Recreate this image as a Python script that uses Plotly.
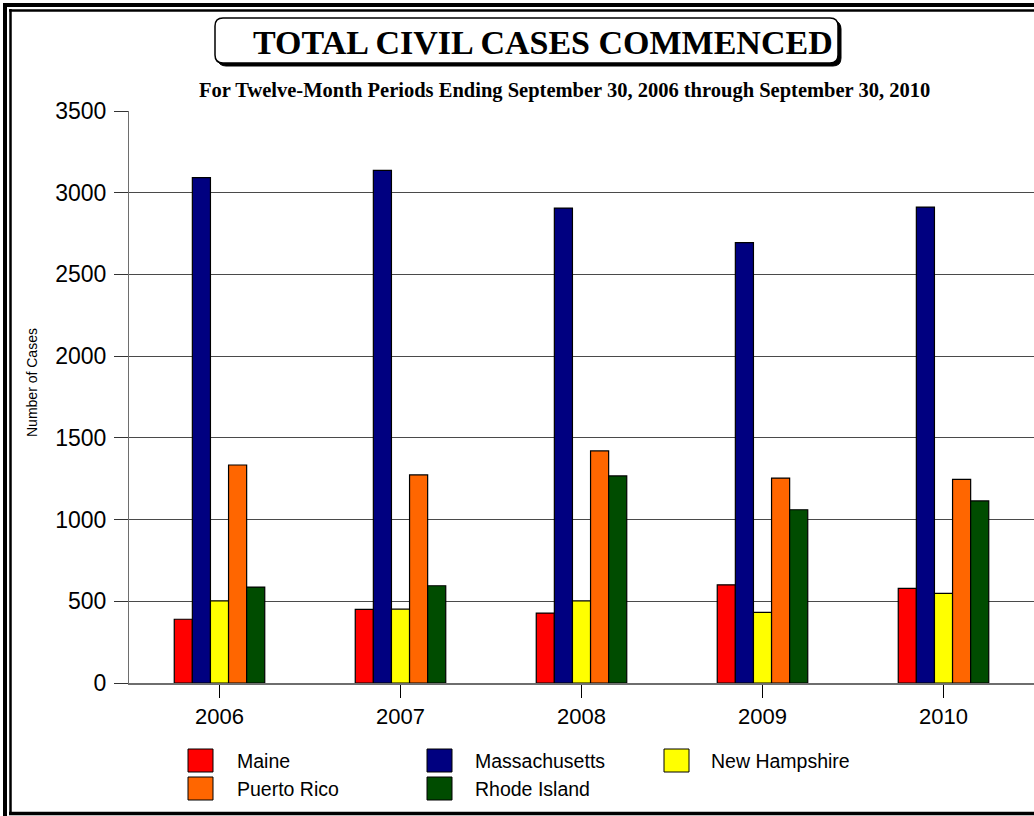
import plotly.graph_objects as go

years = ["2006", "2007", "2008", "2009", "2010"]
series_names = ["Maine", "Massachusetts", "New Hampshire", "Puerto Rico", "Rhode Island"]
maine = [390, 451, 428, 601, 579]
massachusetts = [3092, 3137, 2906, 2694, 2912]
new_hampshire = [503, 452, 502, 432, 549]
puerto_rico = [1334, 1273, 1420, 1254, 1246]
rhode_island = [587, 595, 1267, 1060, 1114]
colors = ["#FF0000", "#000080", "#FFFF00", "#FF6600", "#004C00"]
y_ticks = [0, 500, 1000, 1500, 2000, 2500, 3000, 3500]

values = [maine, massachusetts, new_hampshire, puerto_rico, rhode_island]

W, H = 1034, 816
ML, MR, MT, MB = 129, 0, 111, 133
PW = W - ML - MR
PH = H - MT - MB


def px(x):
    return (x - ML) / PW


def py(y):
    return (H - MB - y) / PH


fig = go.Figure()
for name, vals, col in zip(series_names, values, colors):
    fig.add_trace(go.Bar(
        x=years, y=vals, name=name,
        marker=dict(color=col, line=dict(color="#000000", width=1.2)),
        showlegend=False,
    ))

shapes = []
annotations = []

# outer double frame
shapes.append(dict(type="line", xref="paper", yref="paper", x0=px(5), x1=px(5), y0=py(3), y1=py(H),
                   line=dict(color="black", width=4)))
shapes.append(dict(type="line", xref="paper", yref="paper", x0=px(3), x1=px(W), y0=py(5), y1=py(5),
                   line=dict(color="black", width=4)))
shapes.append(dict(type="line", xref="paper", yref="paper", x0=px(10.5), x1=px(10.5), y0=py(9), y1=py(815),
                   line=dict(color="black", width=2.5)))
shapes.append(dict(type="line", xref="paper", yref="paper", x0=px(9), x1=px(W), y0=py(10.5), y1=py(10.5),
                   line=dict(color="black", width=2.5)))
shapes.append(dict(type="line", xref="paper", yref="paper", x0=px(9), x1=px(W), y0=py(813.5), y1=py(813.5),
                   line=dict(color="black", width=3.5)))


# title box with shadow (rounded)
def rounded_path(x0, y0, x1, y1, r):
    X0, X1 = px(x0), px(x1)
    Y0, Y1 = py(y0), py(y1)
    rx = r / PW
    ry = r / PH
    return (f"M {X0+rx},{Y0} L {X1-rx},{Y0} Q {X1},{Y0} {X1},{Y0-ry} "
            f"L {X1},{Y1+ry} Q {X1},{Y1} {X1-rx},{Y1} L {X0+rx},{Y1} "
            f"Q {X0},{Y1} {X0},{Y1+ry} L {X0},{Y0-ry} Q {X0},{Y0} {X0+rx},{Y0} Z")


shapes.append(dict(type="path", xref="paper", yref="paper", path=rounded_path(218, 21, 841, 66, 8),
                   fillcolor="black", line=dict(color="black", width=1)))
shapes.append(dict(type="path", xref="paper", yref="paper", path=rounded_path(215, 18, 838, 63, 8),
                   fillcolor="white", line=dict(color="black", width=1.5)))

annotations.append(dict(text="<b>TOTAL CIVIL CASES COMMENCED</b>", xref="paper", yref="paper",
                        x=px(543), y=py(42), xanchor="center", yanchor="middle", showarrow=False,
                        font=dict(family="Liberation Serif, Times New Roman, serif", size=34, color="black")))
annotations.append(dict(text="<b>For Twelve-Month Periods Ending September 30, 2006 through September 30, 2010</b>",
                        xref="paper", yref="paper", x=px(564), y=py(91), xanchor="center", yanchor="middle",
                        showarrow=False,
                        font=dict(family="Liberation Serif, Times New Roman, serif", size=20.5, color="black")))
annotations.append(dict(text="Number of Cases", xref="paper", yref="paper", x=px(32), y=py(383),
                        xanchor="center", yanchor="middle", textangle=-90, showarrow=False,
                        font=dict(family="Liberation Sans, Arial, sans-serif", size=14, color="black")))

# custom legend
leg_pos = [(188, 749, 238), (427, 749, 476), (664, 749, 712), (188, 777, 238), (427, 777, 476)]
for (sx, sy, tx), name, col in zip(leg_pos, series_names, colors):
    shapes.append(dict(type="rect", xref="paper", yref="paper", x0=px(sx), x1=px(sx + 25),
                       y0=py(sy), y1=py(sy + 23), fillcolor=col, line=dict(color="black", width=1)))
    annotations.append(dict(text=name, xref="paper", yref="paper", x=px(tx - 3), y=py(sy + 11.5),
                            xanchor="left", yanchor="middle", showarrow=False,
                            font=dict(family="Liberation Sans, Arial, sans-serif", size=19.5, color="black")))

fig.update_layout(
    width=W, height=H,
    margin=dict(l=ML, r=MR, t=MT, b=MB, pad=0),
    paper_bgcolor="white", plot_bgcolor="white",
    barmode="group", bargap=0.5, bargroupgap=0,
    shapes=shapes, annotations=annotations,
    showlegend=False,
    font=dict(family="Liberation Sans, Arial, sans-serif", color="black"),
)
fig.update_xaxes(
    type="category", range=[-0.5, 4.5],
    showline=True, linecolor="#6e6e6e", linewidth=2,
    ticks="outside", ticklen=13, tickcolor="black", tickwidth=1,
    showgrid=False, tickfont=dict(size=22, color="black"),
)
fig.update_yaxes(
    range=[0, 3500], tickvals=y_ticks, ticktext=[str(v) for v in y_ticks],
    showline=True, linecolor="#6e6e6e", linewidth=1,
    ticks="outside", ticklen=14, tickcolor="#333333", tickwidth=1,
    showgrid=True, gridcolor="#4a4a4a", gridwidth=1, zeroline=False,
    tickfont=dict(size=23, color="black"), ticklabelstandoff=3,
)
fig.write_html(
    "out.html",
    config={"displayModeBar": False},
    post_script="document.body.style.margin='0';document.body.style.overflow='hidden';",
)
